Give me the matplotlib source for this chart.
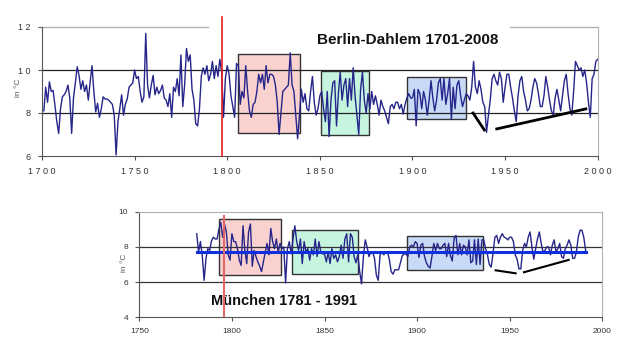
import numpy as np
import matplotlib.pyplot as plt
from matplotlib.patches import Rectangle

plt.rcParams['font.family'] = ['Liberation Sans', 'DejaVu Sans']

# Berlin-Dahlem annual mean temperature (deg C)
berlin_years = list(range(1701, 2001))
berlin_temps = [
    8.1, 9.2, 8.5, 9.45, 9.0, 9.05, 8.35, 7.6, 7.05, 8.2,
    8.75, 8.85, 9.0, 9.3, 8.7, 7.05, 8.7, 9.4, 10.15, 9.75,
    9.1, 9.5, 9.0, 9.3, 8.6, 9.45, 10.2, 9.0, 8.05, 8.45,
    7.8, 8.2, 8.75, 8.65, 8.65, 8.6, 8.5, 8.4, 7.9, 6.05,
    7.6, 8.2, 8.85, 7.9, 8.4, 8.65, 9.2, 9.3, 9.4, 10.0,
    9.6, 9.7, 9.0, 8.5, 8.75, 11.7, 9.3, 8.7, 9.3, 9.75,
    8.85, 9.2, 8.9, 9.05, 9.3,
    8.7, 8.6, 8.3, 8.9, 7.8, 9.2, 9.0, 9.6, 8.8, 10.7,
    8.3, 9.3, 11.0, 10.4, 10.7, 9.1, 8.6, 7.5, 7.4, 8.2,
    9.7, 10.1, 9.8, 10.2, 9.5, 9.8, 10.4, 9.6, 10.2, 9.7,
    10.5, 9.9, 7.8, 9.6, 10.2, 9.8, 8.8, 8.3, 7.8, 10.3,
    10.2, 8.4, 9.0, 8.7, 10.2, 9.0, 8.1, 7.8, 8.4, 8.5,
    9.0, 9.8, 9.4, 9.8, 9.1, 10.2, 9.4, 9.8, 9.8, 9.7,
    9.3, 8.5, 7.0, 8.0, 9.0, 9.1, 9.2, 9.3, 10.8, 9.3,
    9.0, 7.9, 6.8, 7.9,
    9.1, 8.5, 8.9, 8.2, 8.1, 9.0, 9.7, 8.5, 7.9, 8.2,
    8.8, 9.0, 8.2, 7.6, 9.0, 6.9, 8.6, 9.4, 9.5, 7.4,
    8.9, 9.9, 8.6, 9.3, 9.6, 8.3, 9.6, 8.6, 10.1, 8.8,
    7.9, 7.0, 9.1, 9.9, 8.6, 8.0, 8.9, 8.2, 9.0, 8.4,
    8.8, 8.4, 7.9, 8.6, 8.3, 8.1, 7.8, 7.5, 8.3, 8.4,
    8.2, 8.5, 8.5, 8.2, 8.4, 7.95, 8.4, 8.7, 8.9, 8.7,
    8.7, 9.1, 7.4, 9.1, 8.9, 8.2, 9.0, 8.6, 7.9, 8.6,
    9.5, 8.7, 8.1, 8.6, 9.4, 9.6, 8.6, 9.6, 8.4, 8.9,
    9.6, 7.7, 9.2, 8.2, 9.3, 9.5, 8.8, 8.3, 8.6, 8.9,
    8.8, 8.6, 9.2, 10.4, 9.2, 8.9, 9.5, 9.1, 8.5, 8.3,
    7.1, 7.9, 8.6, 9.6, 9.8, 9.5, 9.3, 9.9, 9.6, 8.5,
    9.2, 9.8, 9.8, 9.2, 8.7, 8.1, 7.6, 8.8, 9.5, 9.7,
    9.0, 8.6, 8.1, 8.2, 8.6, 9.2, 9.6, 9.4, 8.9, 8.3,
    8.3, 8.8, 9.7, 9.2, 8.6, 8.1, 7.9, 8.7, 9.1, 8.6,
    8.1, 8.8, 9.5, 9.8, 8.9, 8.2, 7.9, 9.0, 10.4, 10.2,
    10.0, 10.1, 9.7, 10.0, 9.4, 8.5, 7.8, 9.6, 9.8, 10.4,
    10.5,
]

# München annual mean temperature (deg C)
munich_years = list(range(1781, 1992))
munich_temps = [
    8.75, 7.7, 8.3, 7.5, 6.1, 7.35, 7.9, 7.8, 8.35, 8.55,
    8.45, 8.45, 9.0, 9.4, 8.55, 9.3, 8.85, 7.55, 7.25, 8.75,
    8.3, 8.3, 7.9, 7.25, 6.95, 9.2, 7.8, 7.05, 8.85, 9.3,
    6.9, 7.8, 7.45, 7.15, 6.9, 6.6, 7.15, 7.7, 8.2, 7.55,
    9.05, 8.3, 7.9, 8.45, 7.7, 8.2, 7.9, 8.0, 5.95, 7.9,
    8.3, 7.6, 8.45, 9.2, 8.3,
    7.8, 8.45, 7.05, 8.3, 7.7, 7.9, 7.25, 7.9, 7.55, 8.45,
    7.45, 8.3, 7.7, 7.6, 7.6, 7.15, 7.7, 7.05, 7.9, 7.35,
    7.55, 7.15, 7.45, 8.1, 7.35, 8.45, 8.75, 7.15, 8.75,
    8.55, 7.45, 7.1, 7.55, 6.6, 5.9, 7.45, 8.4, 8.0, 7.45,
    7.7, 7.7, 7.35, 6.4, 6.1, 7.55, 7.7, 7.55, 7.7, 7.7,
    7.3, 6.6, 6.45, 6.7, 6.7, 6.7, 7.1, 7.5, 7.6, 7.6,
    7.45, 8.0, 8.1, 8.0, 8.3, 8.2, 7.4, 8.1, 8.2, 7.45,
    7.1, 6.9, 6.8, 7.45, 8.2, 7.8, 8.2, 7.9, 7.9, 8.1,
    8.2, 7.45, 8.2, 7.5, 7.2, 8.5, 8.65, 7.55, 8.2, 7.55,
    8.1, 8.0, 7.55, 8.4, 7.1, 7.2, 8.4, 7.0, 8.45, 7.0,
    8.4, 8.4, 7.9, 7.55, 7.0, 6.85, 7.65, 8.55, 8.65, 8.2,
    8.55, 8.75, 8.55, 8.5, 8.4, 8.55, 8.55, 8.3, 7.55, 7.3,
    6.75, 6.75, 7.8, 8.2, 8.0, 8.55, 8.85, 8.0, 7.3, 7.9,
    8.45, 8.85, 8.2, 7.7, 7.8, 8.0, 8.0, 7.55, 8.1, 8.4,
    7.7, 7.9, 8.2, 7.45, 7.35, 7.9, 8.1, 8.4, 8.1, 7.35,
    7.35, 7.7, 8.55, 8.95, 8.95, 8.55, 7.8,
]
munich_mean = 7.7

# highlighted periods: (start year, end year, low temp, high temp)
berlin_boxes = [(1806, 1839.3, 7.07, 10.74), (1850.5, 1876.7, 6.99, 9.95), (1896.9, 1928.8, 7.72, 9.67)]
munich_boxes = [(1793, 1826.3, 6.42, 9.57), (1832.6, 1868.1, 6.48, 8.98), (1894.7, 1935.7, 6.69, 8.62)]
box_colors = ['#f9d2d0', '#c6f5df', '#c9daf6']

# hand-drawn trend strokes
berlin_strokes = [((1932.7, 1938.8), (8.0, 7.21)), ((1945.5, 1993.6), (7.26, 8.19))]
munich_strokes = [((1942.4, 1953.2), (6.67, 6.5)), ((1957.7, 1981.8), (6.56, 7.26))]

red_year_berlin = 1797
red_year_munich = 1795.7

line_color = '#25258a'
axis_color = '#555555'
light_color = '#b0b0b0'

fig = plt.figure(figsize=(6.28, 3.5), dpi=100)

# ---- Berlin panel ----
ax1 = fig.add_axes([42 / 628, 1 - 156 / 350, 555.7 / 628, 129 / 350])
ax1.set_xlim(1700, 2000)
ax1.set_ylim(6, 12)
for (x0, x1, y0, y1), c in zip(berlin_boxes, box_colors):
    ax1.add_patch(Rectangle((x0, y0), x1 - x0, y1 - y0, facecolor=c,
                            edgecolor='#333333', lw=1.0, zorder=1))
for t in (8, 10):
    ax1.axhline(t, color='#222222', lw=0.9, zorder=2)
ax1.plot(berlin_years, berlin_temps, color=line_color, lw=1.0, zorder=3)
for xs, ys in berlin_strokes:
    ax1.plot(xs, ys, color='black', lw=2.0, zorder=4)
ax1.plot([red_year_berlin, red_year_berlin], [6, 12.47], color='#e02020', lw=1.2,
         clip_on=False, zorder=5)
# top border, broken by the title
ax1.plot([1700, 1789.6], [12, 12], color=light_color, lw=1.0, clip_on=False)
ax1.plot([1952.7, 2000], [12, 12], color=light_color, lw=1.0, clip_on=False)
ax1.spines['top'].set_visible(False)
ax1.spines['right'].set_color(light_color)
ax1.spines['left'].set_color(axis_color)
ax1.spines['bottom'].set_color(axis_color)
ax1.set_xticks(range(1700, 2001, 50))
ax1.set_xticklabels([' '.join(str(y)) for y in range(1700, 2001, 50)])
ax1.set_yticks([6, 8, 10, 12])
ax1.set_yticklabels([' '.join(str(t)) for t in [6, 8, 10, 12]])
ax1.tick_params(direction='out', length=3, width=0.8, color=axis_color,
                labelsize=6.5, labelcolor='#333333', pad=5)
ax1.set_ylabel('in °C', fontsize=6, color='#555555')
ax1.yaxis.set_label_coords(-0.036, 0.527)
ax1.text(1848.5, 11.4, 'Berlin-Dahlem 1701-2008', fontsize=11, fontweight='bold',
         color='#111111', va='center', ha='left')

# ---- München panel ----
ax2 = fig.add_axes([139.3 / 628, 1 - 317.3 / 350, 463 / 628, 105.6 / 350])
ax2.set_xlim(1750, 2000)
ax2.set_ylim(4, 10)
for (x0, x1, y0, y1), c in zip(munich_boxes, box_colors):
    ax2.add_patch(Rectangle((x0, y0), x1 - x0, y1 - y0, facecolor=c,
                            edgecolor='#333333', lw=1.0, zorder=1))
for t in (6, 8):
    ax2.axhline(t, color='#333333', lw=0.9, zorder=2)
ax2.plot(munich_years, munich_temps, color=line_color, lw=1.0, zorder=3)
ax2.plot([munich_years[0], munich_years[-1]], [munich_mean, munich_mean],
         color='#1030e0', lw=2.2, zorder=4)
for xs, ys in munich_strokes:
    ax2.plot(xs, ys, color='black', lw=1.5, zorder=4)
ax2.plot([red_year_munich, red_year_munich], [4, 9.76], color='#e06868', lw=1.5, zorder=5)
ax2.spines['top'].set_color(light_color)
ax2.spines['right'].set_color(light_color)
ax2.spines['left'].set_color(axis_color)
ax2.spines['bottom'].set_color(axis_color)
ax2.set_xticks(range(1750, 2001, 50))
ax2.set_yticks([4, 6, 8, 10])
ax2.tick_params(direction='out', length=3, width=0.8, color=axis_color,
                labelsize=6, labelcolor='#333333', pad=5)
ax2.set_ylabel('in °C', fontsize=6, color='#555555')
ax2.yaxis.set_label_coords(-0.0244, 0.514)
ax2.text(1788.5, 4.95, 'München 1781 - 1991', fontsize=10.5, fontweight='bold',
         color='#111111', va='center', ha='left')

fig.savefig('out.png', dpi=100)
